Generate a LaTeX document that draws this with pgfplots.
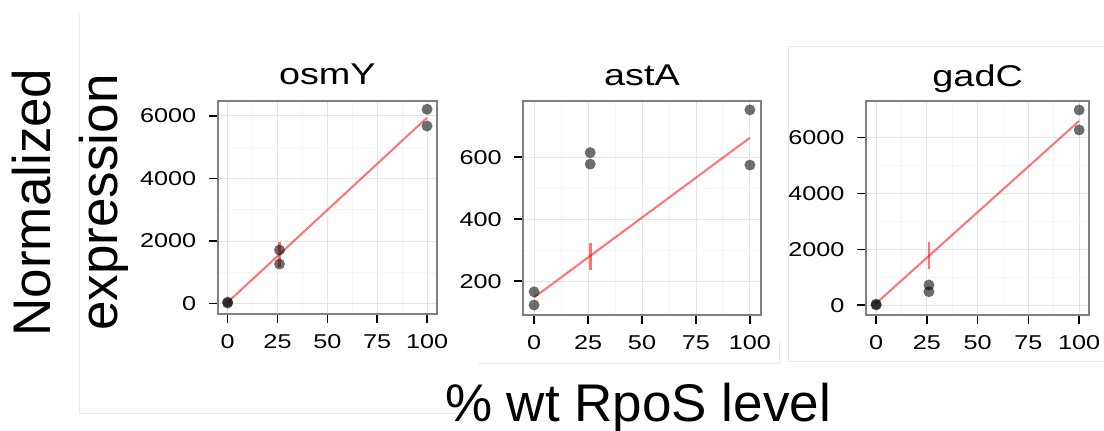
\documentclass[border=0pt]{standalone}
\usepackage{pgfplots}
\pgfplotsset{compat=1.18}
\usepackage{fontspec}
\setmainfont{Liberation Sans}
\newfontfamily\panelfont[FakeStretch=1.26]{Liberation Sans}
\newcommand\tickfont{\panelfont\fontsize{20}{22}\selectfont}
\newcommand\titlefont{\panelfont\fontsize{30}{32}\selectfont}
\newcommand\labfont{\fontsize{53}{60}\selectfont}
\pgfplotsset{
 panel/.style={
  scale only axis,
  anchor=south west,
  xmin=-5, xmax=105,
  xtick={0,25,50,75,100},
  minor x tick num=1,
  minor y tick num=1,
  grid=both,
  major grid style={draw=black!10, line width=0.9pt},
  minor grid style={draw=black!4, line width=0.9pt},
  axis line style={draw=black!50, line width=2pt},
  tick align=outside,
  tick pos=left,
  major tick length=9pt,
  minor tick length=0pt,
  every tick/.style={black, line width=1.6pt},
  tick label style={font=\tickfont},
  xticklabel style={yshift=-8pt},
  yticklabel style={xshift=-9pt},
  /pgf/number format/assume math mode=true,
  /pgf/number format/1000 sep={},
  title style={font=\titlefont, anchor=base, at={(0.5,1)}, yshift=10pt},
 },
 pts/.style={only marks, mark=*, mark size=5.5pt, mark options={solid, draw=black, draw opacity=0, line width=0pt, fill=black, fill opacity=0.57}},
 fit/.style={no marks, draw=red, line width=2pt, draw opacity=0.55},
 bar/.style={no marks, draw=red, line width=2.6pt, draw opacity=0.55},
}
\begin{document}
\begin{tikzpicture}
\useasboundingbox (0pt,0pt) rectangle (1104pt,431pt);
% faint frames of the composite
\draw[black!8, line width=1pt] (79pt,418pt) -- (79pt,17pt) -- (478pt,17pt);
\draw[black!8, line width=1pt] (478pt,67pt) -- (779pt,67pt) -- (779pt,91pt);
\draw[black!8, line width=1pt] (1104pt,384pt) -- (788pt,384pt) -- (788pt,69pt) -- (1104pt,69pt);

% osmY
\begin{axis}[panel, at={(217.7pt,117pt)}, width=219.3pt, height=213.3pt,
  ymin=-329, ymax=6479, ytick={0,2000,4000,6000}, title={osmY}]
\addplot[pts] coordinates {(0,20) (0,50) (26,1714) (26,1267) (100,6205) (100,5672)};
\addplot[fit] coordinates {(0,45) (100,5937)};
\addplot[bar] coordinates {(26,1177) (26,1977)};
\end{axis}

% astA
\begin{axis}[panel, at={(523.3pt,116pt)}, width=237.4pt, height=213.7pt,
  ymin=91.3, ymax=780.6, ytick={200,400,600}, title={astA}]
\addplot[pts] coordinates {(0,166) (0,123.5) (26,615) (26,578) (100,753) (100,575)};
\addplot[fit] coordinates {(0,148) (100,663)};
\addplot[bar] coordinates {(26,237) (26,323)};
\end{axis}

% gadC
\begin{axis}[panel, at={(866pt,115.7pt)}, width=223.3pt, height=214.3pt,
  ymin=-358, ymax=7314, ytick={0,2000,4000,6000}, title={gadC},
  title style={yshift=-2pt}]
\addplot[pts] coordinates {(0,10) (0,40) (26,727) (26,487) (100,6992) (100,6276)};
\addplot[fit] coordinates {(0,72) (100,6599)};
\addplot[bar] coordinates {(26,1289) (26,2249)};
\end{axis}

\node[anchor=base, font=\labfont, inner sep=0pt] at (638pt,9.3pt) {\% wt RpoS level};
\node[anchor=base, rotate=90, font=\labfont, inner sep=0pt] at (50pt,228.5pt) {Normalized};
\node[anchor=base, rotate=90, font=\labfont, inner sep=0pt] at (117pt,228.5pt) {expression};
\end{tikzpicture}
\end{document}
